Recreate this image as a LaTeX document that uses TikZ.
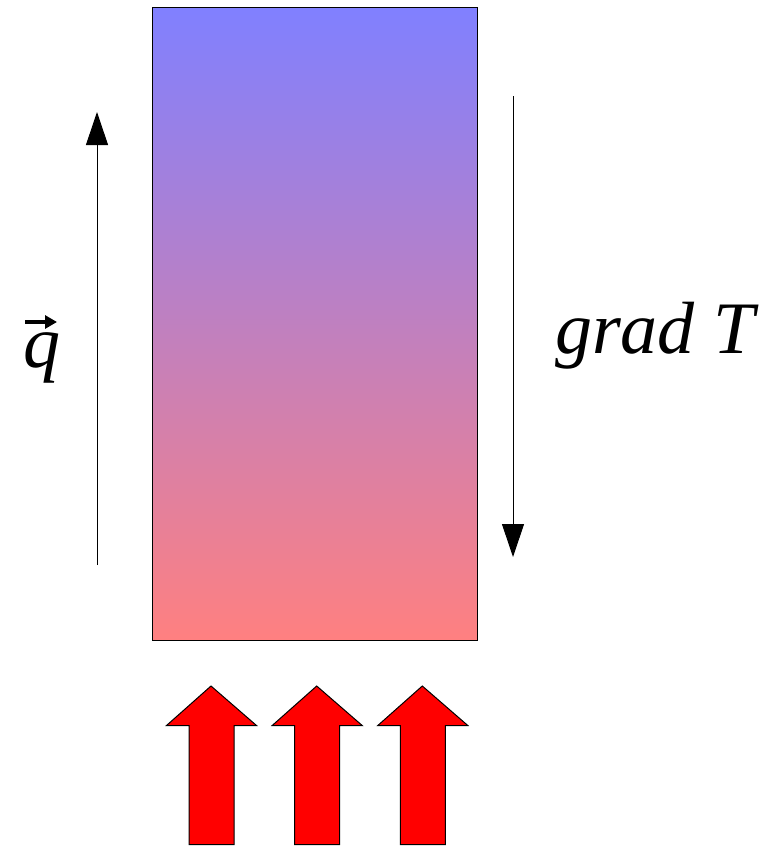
\documentclass[tikz,border=0pt]{standalone}
\usepackage{fontspec}
\newfontfamily\labfont{Liberation Serif Italic}
\usetikzlibrary{arrows.meta}
\tikzset{
  slab/.style={draw=black, line width=1pt, top color={rgb,255:red,128;green,128;blue,255}, bottom color={rgb,255:red,255;green,128;blue,128}, minimum width=325pt, minimum height=633pt, inner sep=0pt, anchor=north west},
  flux/.style={draw=black, line width=1pt, -{Triangle[length=33pt,width=22pt]}},
  biglabel/.style={font=\labfont\fontsize{74}{88}\selectfont, inner sep=0pt, anchor=base west},
  heatarrow/.style={draw=black, line width=1pt, fill=red}
}
\newcommand{\heatup}[2]{% center x, name
  \coordinate (#2) at (#1,686);
  \path[heatarrow] (#2) -- ++(45.5,39.5) -- ++(-22.5,0) -- ++(0,119) -- ++(-45,0) -- ++(0,-119) -- ++(-22.5,0) -- cycle;
}
\begin{document}
\begin{tikzpicture}[x=1pt,y=-1pt]
\useasboundingbox (0,0) rectangle (761,846);
\node[slab] (body) at (152,7) {};
\coordinate (qs) at (97,565);
\coordinate (qe) at (97,112);
\draw[flux] (qs) -- (qe);
\coordinate (gs) at (513,96);
\coordinate (ge) at (513,557);
\draw[flux] (gs) -- (ge);
\node[biglabel] (q) at (23,367) {q};
\coordinate (va) at (25,322);
\coordinate (vb) at (57,322);
\draw[line width=3.5pt, -{Triangle[length=12pt,width=13pt]}] (va) -- (vb);
\node[biglabel] (grad) at (555,353) {grad T};
\heatup{211}{h1}
\heatup{316.7}{h2}
\heatup{422.3}{h3}
\end{tikzpicture}
\end{document}
